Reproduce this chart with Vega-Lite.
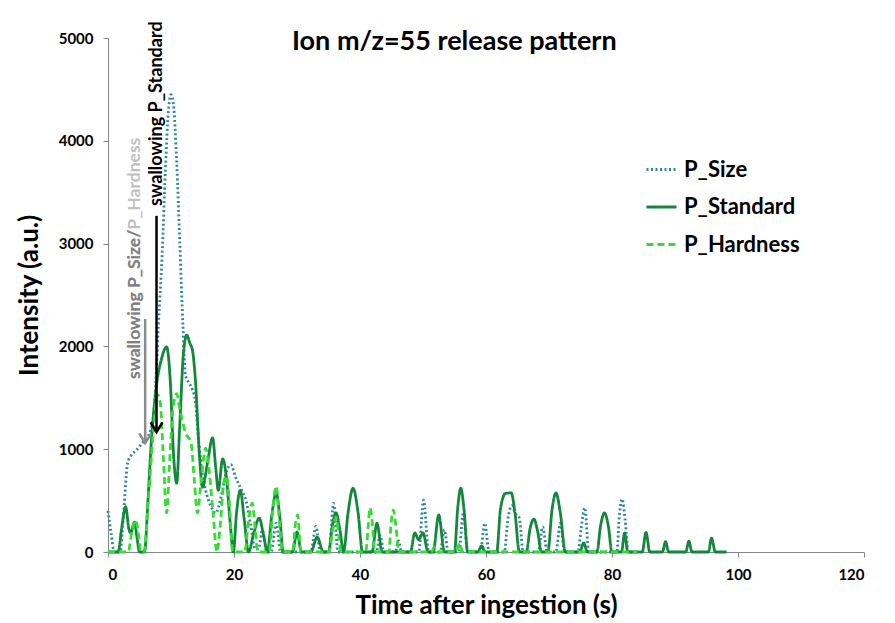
{
  "$schema": "https://vega.github.io/schema/vega-lite/v6.json",
  "width": 756,
  "height": 514,
  "autosize": {"type": "none"},
  "padding": {"left": 108, "top": 38, "right": 31, "bottom": 71},
  "background": "white",
  "title": {
    "text": "Ion m/z=55 release pattern",
    "font": "Lato",
    "fontSize": 27,
    "fontWeight": "bold",
    "color": "black",
    "anchor": "start",
    "frame": "group",
    "baseline": "alphabetic",
    "offset": 0,
    "dx": 184,
    "dy": 56
  },
  "layer": [
    {
      "data": {
        "values": [
          {"s": "P_Size", "t": 0, "v": 400}, {"s": "P_Size", "t": 0.5, "v": 180}, {"s": "P_Size", "t": 1.0, "v": 0},
          {"s": "P_Size", "t": 1.9, "v": 0}, {"s": "P_Size", "t": 2.5, "v": 400}, {"s": "P_Size", "t": 3.1, "v": 860},
          {"s": "P_Size", "t": 3.7, "v": 940}, {"s": "P_Size", "t": 4.5, "v": 990}, {"s": "P_Size", "t": 5.3, "v": 1050},
          {"s": "P_Size", "t": 6.0, "v": 1100}, {"s": "P_Size", "t": 6.8, "v": 1190}, {"s": "P_Size", "t": 7.4, "v": 1450},
          {"s": "P_Size", "t": 8.0, "v": 2200}, {"s": "P_Size", "t": 8.6, "v": 2900}, {"s": "P_Size", "t": 9.1, "v": 3700},
          {"s": "P_Size", "t": 9.6, "v": 4300}, {"s": "P_Size", "t": 10.0, "v": 4450}, {"s": "P_Size", "t": 10.4, "v": 4350},
          {"s": "P_Size", "t": 10.9, "v": 3800}, {"s": "P_Size", "t": 11.4, "v": 3000}, {"s": "P_Size", "t": 11.9, "v": 2200},
          {"s": "P_Size", "t": 12.3, "v": 1720}, {"s": "P_Size", "t": 12.8, "v": 1650}, {"s": "P_Size", "t": 13.4, "v": 1580},
          {"s": "P_Size", "t": 13.9, "v": 1450}, {"s": "P_Size", "t": 14.3, "v": 1150}, {"s": "P_Size", "t": 14.8, "v": 830},
          {"s": "P_Size", "t": 15.5, "v": 600}, {"s": "P_Size", "t": 16.3, "v": 450}, {"s": "P_Size", "t": 17.1, "v": 380},
          {"s": "P_Size", "t": 18.0, "v": 550}, {"s": "P_Size", "t": 18.8, "v": 780}, {"s": "P_Size", "t": 19.5, "v": 850},
          {"s": "P_Size", "t": 20.3, "v": 720}, {"s": "P_Size", "t": 21.3, "v": 590}, {"s": "P_Size", "t": 21.9, "v": 500},
          {"s": "P_Size", "t": 22.6, "v": 280}, {"s": "P_Size", "t": 23.4, "v": 30}, {"s": "P_Size", "t": 23.9, "v": 30},
          {"s": "P_Size", "t": 24.5, "v": 215}, {"s": "P_Size", "t": 25.2, "v": 0}, {"s": "P_Size", "t": 25.9, "v": 0},
          {"s": "P_Size", "t": 26.7, "v": 280}, {"s": "P_Size", "t": 27.4, "v": 0}, {"s": "P_Size", "t": 32.2, "v": 0},
          {"s": "P_Size", "t": 33.0, "v": 250}, {"s": "P_Size", "t": 33.7, "v": 0}, {"s": "P_Size", "t": 35.1, "v": 0},
          {"s": "P_Size", "t": 35.8, "v": 475}, {"s": "P_Size", "t": 36.5, "v": 0}, {"s": "P_Size", "t": 42.6, "v": 0},
          {"s": "P_Size", "t": 43.2, "v": 160}, {"s": "P_Size", "t": 43.8, "v": 0}, {"s": "P_Size", "t": 45.6, "v": 0},
          {"s": "P_Size", "t": 46.1, "v": 110}, {"s": "P_Size", "t": 46.6, "v": 0}, {"s": "P_Size", "t": 49.3, "v": 0},
          {"s": "P_Size", "t": 50.1, "v": 505}, {"s": "P_Size", "t": 50.9, "v": 0}, {"s": "P_Size", "t": 52.7, "v": 0},
          {"s": "P_Size", "t": 53.4, "v": 215}, {"s": "P_Size", "t": 54.0, "v": 0}, {"s": "P_Size", "t": 55.7, "v": 0},
          {"s": "P_Size", "t": 56.4, "v": 380}, {"s": "P_Size", "t": 57.1, "v": 0}, {"s": "P_Size", "t": 59.1, "v": 0},
          {"s": "P_Size", "t": 59.8, "v": 280}, {"s": "P_Size", "t": 60.5, "v": 0}, {"s": "P_Size", "t": 62.9, "v": 0},
          {"s": "P_Size", "t": 63.5, "v": 330}, {"s": "P_Size", "t": 64.1, "v": 450}, {"s": "P_Size", "t": 64.7, "v": 370},
          {"s": "P_Size", "t": 65.3, "v": 330}, {"s": "P_Size", "t": 65.9, "v": 0}, {"s": "P_Size", "t": 68.3, "v": 0},
          {"s": "P_Size", "t": 69.0, "v": 245}, {"s": "P_Size", "t": 69.7, "v": 0}, {"s": "P_Size", "t": 71.1, "v": 0},
          {"s": "P_Size", "t": 71.8, "v": 280}, {"s": "P_Size", "t": 72.5, "v": 0}, {"s": "P_Size", "t": 74.6, "v": 0},
          {"s": "P_Size", "t": 75.1, "v": 230}, {"s": "P_Size", "t": 75.7, "v": 430}, {"s": "P_Size", "t": 76.3, "v": 0},
          {"s": "P_Size", "t": 80.8, "v": 0}, {"s": "P_Size", "t": 81.1, "v": 300}, {"s": "P_Size", "t": 81.6, "v": 515},
          {"s": "P_Size", "t": 82.1, "v": 300}, {"s": "P_Size", "t": 82.6, "v": 0}, {"s": "P_Size", "t": 84.0, "v": 0},

          {"s": "P_Standard", "t": 0, "v": 0}, {"s": "P_Standard", "t": 1.6, "v": 0}, {"s": "P_Standard", "t": 2.2, "v": 250},
          {"s": "P_Standard", "t": 2.8, "v": 440}, {"s": "P_Standard", "t": 3.3, "v": 230}, {"s": "P_Standard", "t": 3.6, "v": 185},
          {"s": "P_Standard", "t": 4.2, "v": 290}, {"s": "P_Standard", "t": 4.6, "v": 140}, {"s": "P_Standard", "t": 5.0, "v": 0},
          {"s": "P_Standard", "t": 5.8, "v": 0}, {"s": "P_Standard", "t": 6.3, "v": 450}, {"s": "P_Standard", "t": 6.8, "v": 1000},
          {"s": "P_Standard", "t": 7.6, "v": 1575}, {"s": "P_Standard", "t": 8.5, "v": 1880}, {"s": "P_Standard", "t": 9.3, "v": 1995},
          {"s": "P_Standard", "t": 9.9, "v": 1650}, {"s": "P_Standard", "t": 10.4, "v": 950}, {"s": "P_Standard", "t": 10.9, "v": 670},
          {"s": "P_Standard", "t": 11.4, "v": 1250}, {"s": "P_Standard", "t": 12.0, "v": 1950}, {"s": "P_Standard", "t": 12.5, "v": 2110},
          {"s": "P_Standard", "t": 13.0, "v": 2030}, {"s": "P_Standard", "t": 13.4, "v": 1965}, {"s": "P_Standard", "t": 13.9, "v": 1650},
          {"s": "P_Standard", "t": 14.5, "v": 950}, {"s": "P_Standard", "t": 15.0, "v": 630}, {"s": "P_Standard", "t": 15.8, "v": 870},
          {"s": "P_Standard", "t": 16.6, "v": 1110}, {"s": "P_Standard", "t": 17.1, "v": 820}, {"s": "P_Standard", "t": 17.5, "v": 600},
          {"s": "P_Standard", "t": 18.2, "v": 905}, {"s": "P_Standard", "t": 18.8, "v": 720}, {"s": "P_Standard", "t": 19.4, "v": 280},
          {"s": "P_Standard", "t": 19.9, "v": 0}, {"s": "P_Standard", "t": 20.4, "v": 380}, {"s": "P_Standard", "t": 21.0, "v": 600},
          {"s": "P_Standard", "t": 21.6, "v": 330}, {"s": "P_Standard", "t": 22.3, "v": 0}, {"s": "P_Standard", "t": 23.2, "v": 200},
          {"s": "P_Standard", "t": 24.0, "v": 330}, {"s": "P_Standard", "t": 24.7, "v": 160}, {"s": "P_Standard", "t": 25.3, "v": 0},
          {"s": "P_Standard", "t": 26.0, "v": 360}, {"s": "P_Standard", "t": 26.7, "v": 575}, {"s": "P_Standard", "t": 27.3, "v": 320},
          {"s": "P_Standard", "t": 27.8, "v": 0}, {"s": "P_Standard", "t": 29.3, "v": 0}, {"s": "P_Standard", "t": 30.0, "v": 195},
          {"s": "P_Standard", "t": 30.7, "v": 0}, {"s": "P_Standard", "t": 32.2, "v": 0}, {"s": "P_Standard", "t": 33.2, "v": 145},
          {"s": "P_Standard", "t": 34.2, "v": 0}, {"s": "P_Standard", "t": 35.0, "v": 0}, {"s": "P_Standard", "t": 35.6, "v": 250},
          {"s": "P_Standard", "t": 36.2, "v": 380}, {"s": "P_Standard", "t": 36.8, "v": 220}, {"s": "P_Standard", "t": 37.4, "v": 0},
          {"s": "P_Standard", "t": 38.1, "v": 380}, {"s": "P_Standard", "t": 38.9, "v": 620}, {"s": "P_Standard", "t": 39.7, "v": 380},
          {"s": "P_Standard", "t": 40.4, "v": 0}, {"s": "P_Standard", "t": 41.9, "v": 0}, {"s": "P_Standard", "t": 42.7, "v": 280},
          {"s": "P_Standard", "t": 43.5, "v": 0}, {"s": "P_Standard", "t": 48.0, "v": 0}, {"s": "P_Standard", "t": 48.7, "v": 185},
          {"s": "P_Standard", "t": 49.3, "v": 120}, {"s": "P_Standard", "t": 50.0, "v": 185}, {"s": "P_Standard", "t": 50.8, "v": 0},
          {"s": "P_Standard", "t": 51.6, "v": 0}, {"s": "P_Standard", "t": 52.5, "v": 360}, {"s": "P_Standard", "t": 53.4, "v": 0},
          {"s": "P_Standard", "t": 55.0, "v": 0}, {"s": "P_Standard", "t": 55.5, "v": 420}, {"s": "P_Standard", "t": 56.0, "v": 620},
          {"s": "P_Standard", "t": 56.5, "v": 420}, {"s": "P_Standard", "t": 57.1, "v": 0}, {"s": "P_Standard", "t": 58.7, "v": 0},
          {"s": "P_Standard", "t": 59.3, "v": 60}, {"s": "P_Standard", "t": 59.9, "v": 0}, {"s": "P_Standard", "t": 61.7, "v": 0},
          {"s": "P_Standard", "t": 62.3, "v": 420}, {"s": "P_Standard", "t": 63.1, "v": 570}, {"s": "P_Standard", "t": 64.0, "v": 575},
          {"s": "P_Standard", "t": 64.6, "v": 380}, {"s": "P_Standard", "t": 65.3, "v": 0}, {"s": "P_Standard", "t": 66.4, "v": 0},
          {"s": "P_Standard", "t": 67.0, "v": 230}, {"s": "P_Standard", "t": 67.6, "v": 320}, {"s": "P_Standard", "t": 68.2, "v": 200},
          {"s": "P_Standard", "t": 68.8, "v": 0}, {"s": "P_Standard", "t": 69.8, "v": 0}, {"s": "P_Standard", "t": 70.5, "v": 420},
          {"s": "P_Standard", "t": 71.1, "v": 575}, {"s": "P_Standard", "t": 71.8, "v": 380}, {"s": "P_Standard", "t": 72.6, "v": 0},
          {"s": "P_Standard", "t": 74.9, "v": 0}, {"s": "P_Standard", "t": 75.5, "v": 88}, {"s": "P_Standard", "t": 76.1, "v": 0},
          {"s": "P_Standard", "t": 77.6, "v": 0}, {"s": "P_Standard", "t": 78.2, "v": 260}, {"s": "P_Standard", "t": 78.8, "v": 380},
          {"s": "P_Standard", "t": 79.4, "v": 260}, {"s": "P_Standard", "t": 80.0, "v": 0}, {"s": "P_Standard", "t": 81.5, "v": 0},
          {"s": "P_Standard", "t": 82.0, "v": 185}, {"s": "P_Standard", "t": 82.5, "v": 0}, {"s": "P_Standard", "t": 84.8, "v": 0},
          {"s": "P_Standard", "t": 85.4, "v": 190}, {"s": "P_Standard", "t": 86.0, "v": 0}, {"s": "P_Standard", "t": 88.0, "v": 0},
          {"s": "P_Standard", "t": 88.5, "v": 100}, {"s": "P_Standard", "t": 89.0, "v": 0}, {"s": "P_Standard", "t": 91.7, "v": 0},
          {"s": "P_Standard", "t": 92.2, "v": 105}, {"s": "P_Standard", "t": 92.7, "v": 0}, {"s": "P_Standard", "t": 95.3, "v": 0},
          {"s": "P_Standard", "t": 95.8, "v": 135}, {"s": "P_Standard", "t": 96.4, "v": 0}, {"s": "P_Standard", "t": 98.2, "v": 0},

          {"s": "P_Hardness", "t": 0, "v": 0}, {"s": "P_Hardness", "t": 3.2, "v": 0}, {"s": "P_Hardness", "t": 3.8, "v": 200},
          {"s": "P_Hardness", "t": 4.4, "v": 310}, {"s": "P_Hardness", "t": 4.9, "v": 140}, {"s": "P_Hardness", "t": 5.2, "v": 0},
          {"s": "P_Hardness", "t": 5.7, "v": 0}, {"s": "P_Hardness", "t": 6.4, "v": 500}, {"s": "P_Hardness", "t": 7.1, "v": 1090},
          {"s": "P_Hardness", "t": 7.9, "v": 1530}, {"s": "P_Hardness", "t": 8.3, "v": 1450}, {"s": "P_Hardness", "t": 8.8, "v": 900},
          {"s": "P_Hardness", "t": 9.3, "v": 380}, {"s": "P_Hardness", "t": 9.8, "v": 900}, {"s": "P_Hardness", "t": 10.3, "v": 1380},
          {"s": "P_Hardness", "t": 10.9, "v": 1540}, {"s": "P_Hardness", "t": 11.4, "v": 1390}, {"s": "P_Hardness", "t": 12.3, "v": 1160},
          {"s": "P_Hardness", "t": 13.2, "v": 1060}, {"s": "P_Hardness", "t": 13.7, "v": 700}, {"s": "P_Hardness", "t": 14.2, "v": 380},
          {"s": "P_Hardness", "t": 14.8, "v": 700}, {"s": "P_Hardness", "t": 15.5, "v": 1010}, {"s": "P_Hardness", "t": 16.0, "v": 820},
          {"s": "P_Hardness", "t": 16.6, "v": 440}, {"s": "P_Hardness", "t": 17.3, "v": 0}, {"s": "P_Hardness", "t": 17.8, "v": 250},
          {"s": "P_Hardness", "t": 18.4, "v": 680}, {"s": "P_Hardness", "t": 18.8, "v": 740}, {"s": "P_Hardness", "t": 19.3, "v": 450},
          {"s": "P_Hardness", "t": 19.8, "v": 0}, {"s": "P_Hardness", "t": 21.7, "v": 0}, {"s": "P_Hardness", "t": 22.3, "v": 300},
          {"s": "P_Hardness", "t": 22.9, "v": 475}, {"s": "P_Hardness", "t": 23.4, "v": 200}, {"s": "P_Hardness", "t": 23.8, "v": 0},
          {"s": "P_Hardness", "t": 25.6, "v": 0}, {"s": "P_Hardness", "t": 26.2, "v": 450}, {"s": "P_Hardness", "t": 26.7, "v": 640},
          {"s": "P_Hardness", "t": 27.2, "v": 300}, {"s": "P_Hardness", "t": 27.7, "v": 0}, {"s": "P_Hardness", "t": 29.3, "v": 0},
          {"s": "P_Hardness", "t": 29.7, "v": 250}, {"s": "P_Hardness", "t": 30.1, "v": 360}, {"s": "P_Hardness", "t": 30.6, "v": 0},
          {"s": "P_Hardness", "t": 35.1, "v": 0}, {"s": "P_Hardness", "t": 35.7, "v": 230}, {"s": "P_Hardness", "t": 36.2, "v": 340},
          {"s": "P_Hardness", "t": 36.7, "v": 120}, {"s": "P_Hardness", "t": 37.0, "v": 0}, {"s": "P_Hardness", "t": 40.9, "v": 0},
          {"s": "P_Hardness", "t": 41.3, "v": 250}, {"s": "P_Hardness", "t": 41.6, "v": 430}, {"s": "P_Hardness", "t": 42.0, "v": 250},
          {"s": "P_Hardness", "t": 42.3, "v": 0}, {"s": "P_Hardness", "t": 44.6, "v": 0}, {"s": "P_Hardness", "t": 44.9, "v": 250},
          {"s": "P_Hardness", "t": 45.3, "v": 410}, {"s": "P_Hardness", "t": 45.7, "v": 250}, {"s": "P_Hardness", "t": 46.2, "v": 0},
          {"s": "P_Hardness", "t": 51.3, "v": 0}, {"s": "P_Hardness", "t": 51.8, "v": 50}, {"s": "P_Hardness", "t": 52.3, "v": 0},
          {"s": "P_Hardness", "t": 55.3, "v": 0}, {"s": "P_Hardness", "t": 55.8, "v": 85}, {"s": "P_Hardness", "t": 56.3, "v": 0},
          {"s": "P_Hardness", "t": 84.0, "v": 0}
        ]
      },
      "mark": {"type": "line", "interpolate": "monotone", "strokeWidth": 2.8},
      "encoding": {
        "x": {
          "field": "t",
          "type": "quantitative",
          "title": "Time after ingestion (s)",
          "scale": {"domain": [0, 120], "nice": false},
          "axis": {"values": [0, 20, 40, 60, 80, 100, 120], "titlePadding": 10}
        },
        "y": {
          "field": "v",
          "type": "quantitative",
          "title": "Intensity (a.u.)",
          "scale": {"domain": [0, 5000], "nice": false},
          "axis": {"values": [0, 1000, 2000, 3000, 4000, 5000], "format": "d", "titlePadding": 16}
        },
        "color": {
          "field": "s",
          "type": "nominal",
          "title": null,
          "scale": {
            "domain": ["P_Size", "P_Standard", "P_Hardness"],
            "range": ["#31859c", "#13873c", "#33dd33"]
          }
        },
        "strokeDash": {
          "field": "s",
          "type": "nominal",
          "title": null,
          "scale": {
            "domain": ["P_Size", "P_Standard", "P_Hardness"],
            "range": [[2, 2.5], [1, 0], [7, 4]]
          }
        },
        "order": {"field": "t", "type": "quantitative"}
      }
    },
    {
      "data": {"values": [{"t": 7.7, "y1": 3270, "y2": 1190}]},
      "mark": {"type": "rule", "strokeWidth": 2.5, "color": "black"},
      "encoding": {
        "x": {"field": "t", "type": "quantitative"},
        "y": {"field": "y1", "type": "quantitative"},
        "y2": {"field": "y2"}
      }
    },
    {
      "data": {"values": [{"t": 5.9, "y1": 2267, "y2": 1080}]},
      "mark": {"type": "rule", "strokeWidth": 2.5, "color": "#8c8c8c"},
      "encoding": {
        "x": {"field": "t", "type": "quantitative"},
        "y": {"field": "y1", "type": "quantitative"},
        "y2": {"field": "y2"}
      }
    },
    {
      "data": {"values": [{"t": 7.7, "y": 1167}]},
      "mark": {"type": "point", "shape": "M-1,-1.6L0,0L1,-1.6", "filled": false, "size": 144, "strokeWidth": 2.5, "opacity": 1, "color": "black"},
      "encoding": {
        "x": {"field": "t", "type": "quantitative"},
        "y": {"field": "y", "type": "quantitative"}
      }
    },
    {
      "data": {"values": [{"t": 5.9, "y": 1060}]},
      "mark": {"type": "point", "shape": "M-1,-1.6L0,0L1,-1.6", "filled": false, "size": 144, "strokeWidth": 2.5, "opacity": 1, "color": "#8c8c8c"},
      "encoding": {
        "x": {"field": "t", "type": "quantitative"},
        "y": {"field": "y", "type": "quantitative"}
      }
    },
    {
      "data": {"values": [{"t": 7.8, "y": 3366, "label": "swallowing P_Standard"}]},
      "mark": {"type": "text", "angle": 270, "align": "left", "baseline": "middle", "font": "Lato", "fontSize": 18, "fontWeight": "bold", "color": "black"},
      "encoding": {
        "x": {"field": "t", "type": "quantitative"},
        "y": {"field": "y", "type": "quantitative"},
        "text": {"field": "label"}
      }
    },
    {
      "data": {"values": [{"t": 4.3, "y": 1683, "label": "swallowing P_Size/P_Hardness"}]},
      "mark": {"type": "text", "angle": 270, "align": "left", "baseline": "middle", "font": "Lato", "fontSize": 17.5, "fontWeight": "bold", "color": "#bfbfbf"},
      "encoding": {
        "x": {"field": "t", "type": "quantitative"},
        "y": {"field": "y", "type": "quantitative"},
        "text": {"field": "label"}
      }
    },
    {
      "data": {"values": [{"t": 4.3, "y": 1683, "label": "swallowing P_Size/"}]},
      "mark": {"type": "text", "angle": 270, "align": "left", "baseline": "middle", "font": "Lato", "fontSize": 17.5, "fontWeight": "bold", "color": "#808080"},
      "encoding": {
        "x": {"field": "t", "type": "quantitative"},
        "y": {"field": "y", "type": "quantitative"},
        "text": {"field": "label"}
      }
    }
  ],
  "config": {
    "view": {"stroke": null},
    "axis": {
      "grid": false,
      "domainColor": "#868686",
      "tickColor": "#868686",
      "tickSize": 5,
      "labelFont": "Lato",
      "labelFontSize": 15,
      "labelFontWeight": "bold",
      "labelColor": "black",
      "labelPadding": 10,
      "titleFont": "Lato",
      "titleFontSize": 26,
      "titleFontWeight": "bold",
      "titleColor": "black"
    },
    "legend": {
      "orient": "none",
      "legendX": 537,
      "legendY": 115,
      "padding": 0,
      "symbolType": "stroke",
      "symbolSize": 900,
      "symbolStrokeWidth": 2.8,
      "rowPadding": 9.5,
      "labelOffset": 6,
      "labelFont": "Lato",
      "labelFontSize": 22,
      "labelFontWeight": "bold",
      "labelColor": "black",
      "labelLimit": 300
    }
  }
}
